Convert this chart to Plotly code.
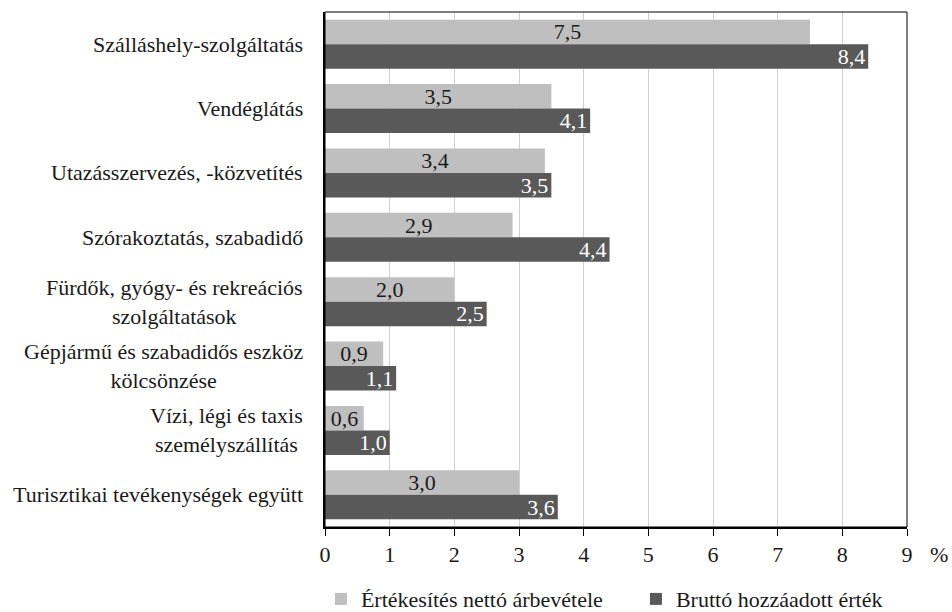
import plotly.graph_objects as go

categories = [
    "Szálláshely-szolgáltatás",
    "Vendéglátás",
    "Utazásszervezés, -közvetítés",
    "Szórakoztatás, szabadidő",
    "Fürdők, gyógy- és rekreációs<br>szolgáltatások",
    "Gépjármű és szabadidős eszköz<br>kölcsönzése",
    "Vízi, légi és taxis<br>személyszállítás",
    "Turisztikai tevékenységek együtt",
]
net_revenue = [7.5, 3.5, 3.4, 2.9, 2.0, 0.9, 0.6, 3.0]
gross_value_added = [8.4, 4.1, 3.5, 4.4, 2.5, 1.1, 1.0, 3.6]
series_names = ["Értékesítés nettó árbevétele", "Bruttó hozzáadott érték"]
x_ticks = [0, 1, 2, 3, 4, 5, 6, 7, 8, 9]

FONT = "'Liberation Serif', 'Times New Roman', 'DejaVu Serif', serif"
FS = 22

def fmt(v):
    return f"{v:.1f}".replace(".", ",")

fig = go.Figure()
fig.add_trace(go.Bar(
    y=categories, x=net_revenue, orientation="h", name=series_names[0],
    marker=dict(color="#bfbfbf", line=dict(width=0)),
    text=[fmt(v) for v in net_revenue], textposition="inside",
    insidetextanchor="middle", textangle=0, constraintext="none",
    textfont=dict(family=FONT, size=FS, color="#1a1a1a"),
))
fig.add_trace(go.Bar(
    y=categories, x=gross_value_added, orientation="h", name=series_names[1],
    marker=dict(color="#595959", line=dict(width=0)),
    text=[fmt(v) for v in gross_value_added], textposition="inside",
    insidetextanchor="end", textangle=0, constraintext="none",
    textfont=dict(family=FONT, size=FS, color="#ffffff"),
))

annotations = []
for c in categories:
    annotations.append(dict(
        x=0, xref="paper", y=c, yref="y", text=c, showarrow=False,
        xanchor="right", yanchor="middle", align="center", xshift=-20,
        font=dict(family=FONT, size=FS, color="#1a1a1a"),
    ))
annotations.append(dict(
    x=1, xref="paper", y=0, yref="paper", text="%", showarrow=False,
    xanchor="center", yanchor="middle", xshift=32, yshift=-27,
    font=dict(family=FONT, size=FS, color="#1a1a1a"),
))

fig.update_layout(
    width=952, height=612,
    margin=dict(l=325, r=45, t=12, b=85, autoexpand=False),
    paper_bgcolor="white", plot_bgcolor="white",
    barmode="group", bargap=0.24, bargroupgap=0,
    font=dict(family=FONT, size=FS, color="#1a1a1a"),
    xaxis=dict(
        range=[0, 9], tickvals=x_ticks, ticktext=[str(t) for t in x_ticks],
        showgrid=True, gridcolor="#d0d0d0", gridwidth=1,
        showline=True, linecolor="black", linewidth=2,
        ticks="outside", ticklen=7, tickcolor="black", tickwidth=1,
        zeroline=False, fixedrange=True, automargin=False,
        tickfont=dict(family=FONT, size=FS, color="#1a1a1a"),
    ),
    yaxis=dict(
        autorange="reversed", showticklabels=False, ticks="",
        showline=True, linecolor="black", linewidth=2,
        showgrid=False, zeroline=False, fixedrange=True, automargin=False,
    ),
    legend=dict(
        orientation="h", x=-0.007, xanchor="left",
        y=-0.14, yanchor="middle",
        font=dict(family=FONT, size=FS, color="#1a1a1a"),
        traceorder="normal", itemwidth=30, entrywidth=270,
    ),
    annotations=annotations,
    shapes=[dict(type="rect", xref="paper", yref="paper", x0=0, x1=1, y0=0, y1=1,
                 line=dict(color="black", width=1), layer="above")],
)

fig.write_html("out.html", config={"displayModeBar": False},
               post_script="document.body.style.margin='0';")
